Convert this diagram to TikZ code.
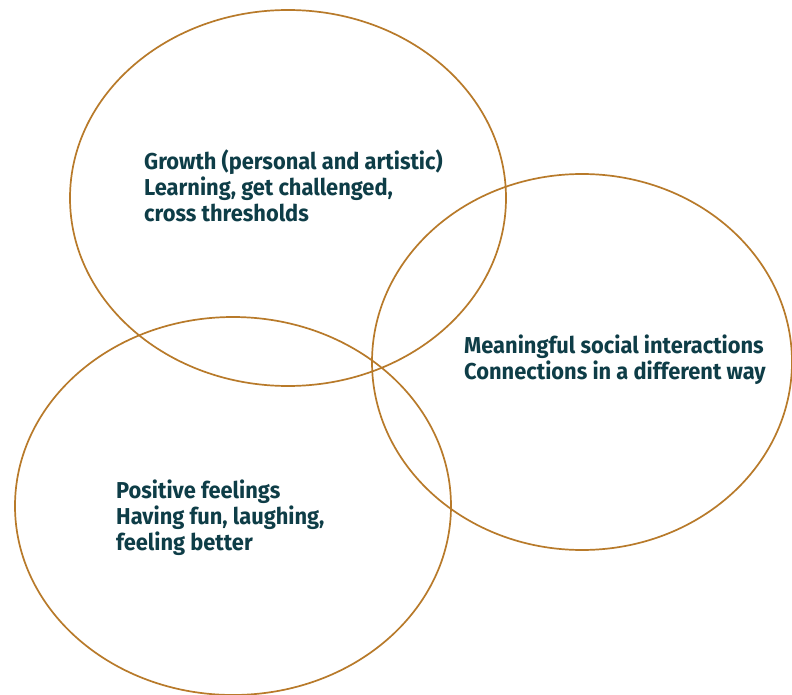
\documentclass[tikz,border=0pt]{standalone}
\usepackage{fontspec}
\setmainfont{Fira Sans}[FakeStretch=0.95]
\definecolor{ring}{HTML}{B87A2A}
\definecolor{ink}{HTML}{0E3D47}
\begin{document}
\begin{tikzpicture}[x=1pt,y=-1pt,
  ringstyle/.style={draw=ring,line width=1.7pt},
  label/.style={anchor=north west,inner sep=0pt,align=left,text=ink,
    font=\fontsize{23}{26}\selectfont\bfseries}]
\useasboundingbox (0,0) rectangle (792,695);
\fill[white] (0,0) rectangle (792,695);
\draw[ringstyle] (288,198) ellipse (218 and 188);
\draw[ringstyle] (582,362) ellipse (210 and 188);
\draw[ringstyle] (233,506) ellipse (218 and 189);
\node[label] (growth) at (144,150) {Growth (personal and artistic)\\Learning, get challenged,\\cross thresholds};
\node[label] (social) at (464,335) {Meaningful social interactions\\Connections in a different way};
\node[label] (pos) at (116,480) {Positive feelings\\Having fun, laughing,\\feeling better};
\end{tikzpicture}
\end{document}
